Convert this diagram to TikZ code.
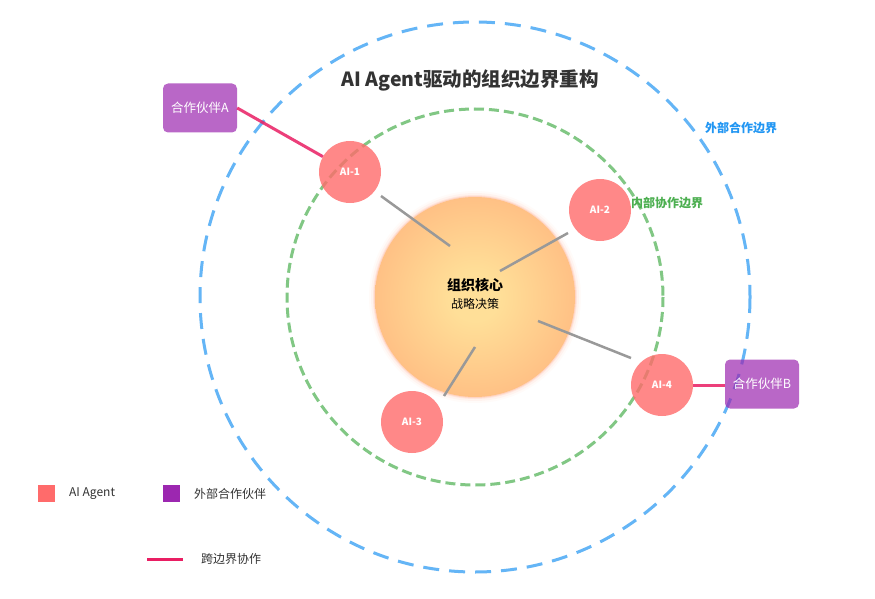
\documentclass[tikz,border=0pt]{standalone}
\usepackage{fontspec}
\setmainfont{Noto Sans CJK SC}
\definecolor{outerBlue}{HTML}{64B5F6}
\definecolor{innerGreen}{HTML}{81C784}
\definecolor{blueText}{HTML}{2196F3}
\definecolor{greenText}{HTML}{4CAF50}
\definecolor{aiRed}{HTML}{FF6B6B}
\definecolor{partnerPurple}{HTML}{9C27B0}
\definecolor{linkPink}{HTML}{E91E63}
\definecolor{lineGray}{HTML}{999999}
\definecolor{textDark}{HTML}{333333}
\definecolor{coreIn}{HTML}{FFDF98}
\definecolor{coreMid}{HTML}{FFBC82}
\definecolor{coreOut}{HTML}{FFA07A}
\pgfdeclareradialshading{coreshade}{\pgfpoint{0bp}{0bp}}{color(0bp)=(coreIn); color(6bp)=(coreIn); color(28bp)=(coreMid); color(46bp)=(coreOut); color(72bp)=(coreOut)}
\begin{document}
\begin{tikzpicture}[x=1pt,y=-1pt,
  boundary/.style={line width=3pt},
  aistyle/.style={circle, fill=aiRed, fill opacity=0.8, text opacity=1, minimum size=62pt, inner sep=0pt, text=white, font=\bfseries\fontsize{10}{12}\selectfont},
  partner/.style={rectangle, rounded corners=5pt, fill=partnerPurple, fill opacity=0.7, text opacity=1, minimum width=74pt, minimum height=49pt, inner sep=0pt, text=white, font=\fontsize{12.5}{14}\selectfont},
  graylink/.style={draw=lineGray, line width=2.5pt},
  pinklink/.style={draw=linkPink, draw opacity=0.85, line width=3pt},
  legsq/.style={rectangle, minimum size=17pt, inner sep=0pt},
  legtext/.style={anchor=west, text=textDark, font=\fontsize{12}{14}\selectfont, inner sep=0pt}
]
\useasboundingbox (0,0) rectangle (875,599);
\fill[white] (0,0) rectangle (875,599);

% boundaries
\coordinate (ctr) at (475,297);
\draw[boundary, outerBlue, dash pattern=on 16pt off 10pt] (ctr) circle (275);
\draw[boundary, innerGreen, dash pattern=on 10pt off 5pt] (ctr) circle (188);

% title
\node[text=textDark, font=\bfseries\fontsize{19.5}{23}\selectfont] (title) at (470,80) {AI Agent驱动的组织边界重构};

% boundary labels
\node[text=blueText, font=\bfseries\fontsize{12}{14}\selectfont] (outerlbl) at (741,128) {外部合作边界};
\node[text=greenText, font=\bfseries\fontsize{12}{14}\selectfont] (innerlbl) at (667,203) {内部协作边界};

% core glow
\foreach \r/\o in {106/0.04,104/0.08,102/0.15,101/0.25} {
  \fill[coreOut, opacity=\o] (ctr) circle (\r);
}
\node[circle, minimum size=200pt, inner sep=0pt, shading=coreshade] (core) at (ctr) {};
\node[font=\bfseries\fontsize{14}{16}\selectfont, text=black] (coret) at (475,285) {组织核心};
\node[font=\fontsize{12}{14}\selectfont, text=black] (cores) at (475,304) {战略决策};

% gray links
\coordinate (g1a) at (381,196); \coordinate (g1b) at (450,246);
\coordinate (g2a) at (568,233); \coordinate (g2b) at (500,271);
\coordinate (g3a) at (475,347); \coordinate (g3b) at (444,396);
\coordinate (g4a) at (538,321); \coordinate (g4b) at (631,358);
\draw[graylink] (g1a) -- (g1b);
\draw[graylink] (g2a) -- (g2b);
\draw[graylink] (g3a) -- (g3b);
\draw[graylink] (g4a) -- (g4b);

% partners
\node[partner] (pa) at (200,108) {合作伙伴A};

% AI agents
\node[aistyle] (ai1) at (350,172) {AI-1};
\node[aistyle] (ai2) at (600,210) {AI-2};
\node[aistyle] (ai3) at (412,422) {AI-3};
\node[aistyle] (ai4) at (662,385) {AI-4};

% cross-boundary links
\draw[pinklink] (pa.east) -- (ai1);
\draw[pinklink] (ai4) -- (725,385) coordinate (pbw);
\node[partner] (pb) at (762,384) {合作伙伴B};

% legend
\node[legsq, fill=aiRed] (lg1) at (46,493) {};
\node[legtext] (lg1t) at (69,494) {AI Agent};
\node[legsq, fill=partnerPurple] (lg2) at (171,493) {};
\node[legtext] (lg2t) at (194,494) {外部合作伙伴};
\coordinate (ll1) at (147,559); \coordinate (ll2) at (183,559);
\draw[draw=linkPink, line width=3pt] (ll1) -- (ll2);
\node[legtext] (lg3t) at (201,559) {跨边界协作};
\end{tikzpicture}
\end{document}
